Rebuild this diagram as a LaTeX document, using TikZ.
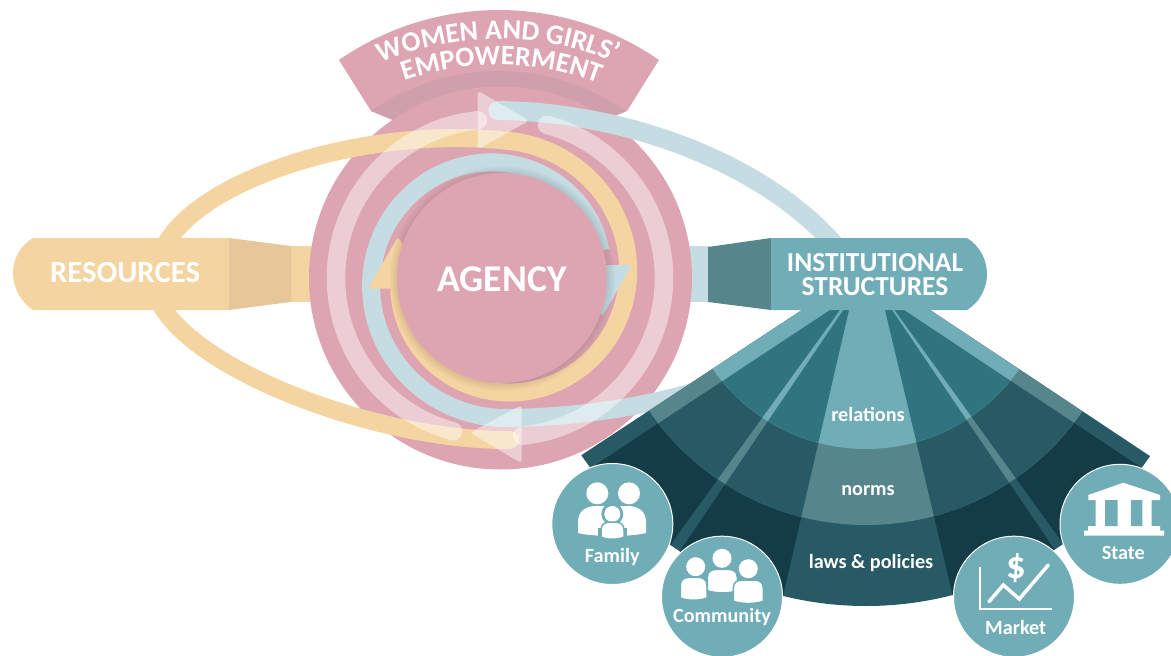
\documentclass[tikz,border=0pt]{standalone}
\usepackage{fontspec}
\setmainfont{Carlito}
\usetikzlibrary{decorations.text}

\definecolor{pinkdisk}{HTML}{DDA5B2}
\definecolor{pinkdark}{HTML}{CFA0AC}
\definecolor{sandband}{HTML}{F4D4A0}
\definecolor{sandneck}{HTML}{E6C79A}
\definecolor{tealpale}{HTML}{C5DDE2}
\definecolor{tealmid}{HTML}{71ADB6}
\definecolor{tealgrey}{HTML}{56858C}
\definecolor{tealdeep}{HTML}{307480}
\definecolor{tealdark}{HTML}{275A65}
\definecolor{tealnight}{HTML}{133C46}

\tikzset{
  wideband/.style={line width=.36cm, line join=round},
  slimband/.style={line width=.36cm, line cap=round, line join=round},
  glassband/.style={white, opacity=.45, line width=.37cm, line cap=round, line join=round},
  arrowhead/.style={rounded corners=2pt},
  headtext/.style={white, font=\fontsize{15.6}{13.6}\selectfont\bfseries, align=center},
  fantext/.style={white, font=\fontsize{11.5}{12}\selectfont\bfseries},
  badge/.style={fill=tealmid, draw=white, line width=.02cm},
  person/.style={fill=white, draw=tealmid, line width=.03cm}
}

% left, top, right, bottom of the body of one person
\newcommand{\personbody}[4]{
  \filldraw[person] ({#1},{#4-2}) -- ({#1},{#2+8})
    .. controls ({#1},{#2+2}) and ({#1+4},{#2}) .. ({#1+10},{#2})
    -- ({#3-10},{#2})
    .. controls ({#3-4},{#2}) and ({#3},{#2+2}) .. ({#3},{#2+8})
    -- ({#3},{#4-2})
    .. controls ({(#1+#3)/2+6},{#4+1}) and ({(#1+#3)/2-6},{#4+1}) .. ({#1},{#4-2}) -- cycle;
}

\begin{document}
\begin{tikzpicture}[x=.02cm, y=-.02cm]
  \useasboundingbox (0,0) rectangle (1171,656);

  % Banner
  \fill[pinkdisk] (339,60) arc[start angle=235.3, end angle=304.7, radius=281]
    -- (627,111) -- (605,120) -- (393,120) -- (371,111) -- cycle;
  \fill[pinkdark] (371,111) arc[start angle=235.1, end angle=304.9, radius=222.5]
    -- (605,120) -- (393,120) -- cycle;
  \path[decorate, decoration={text along path, text align=center,
    text={|\color{white}\fontsize{16}{18}\selectfont\bfseries|WOMEN AND GIRLS’}}]
    (498,345) ++(235:306) arc[start angle=235, end angle=305, radius=306];
  \path[decorate, decoration={text along path, text align=center,
    text={|\color{white}\fontsize{16}{18}\selectfont\bfseries|EMPOWERMENT}}]
    (498,345) ++(235.8:280) arc[start angle=235.8, end angle=305.8, radius=280];

  % Necks behind the disk
  \fill[sandband] (285,246) rectangle (330,302);
  \fill[tealpale] (670,246) rectangle (710,302);

  % Disk
  \fill[pinkdisk] (500.5,278) circle[radius=191.5];

  % Teal spiral
  \draw[tealpale, wideband] (720,383) .. controls (660,405) and (580,418) .. (499,418)
    -- plot[smooth, domain=90:345, samples=40]
    ({499+(140-(\x-90)*.137)*cos(\x)}, {278+(140-(\x-90)*.137)*sin(\x)});
  \draw[tealpale, line width=.38cm, line cap=round] (498,110.5) .. controls (630,112) and (765,165) .. (835,245);

  % Sand spiral
  \draw[sandband, wideband] (165,245) .. controls (205,175) and (370,127) .. (502,140.3)
    -- plot[smooth, domain=-90:178, samples=40]
    ({502+(126-\x*.13)*cos(\x)}, {278+(126-\x*.13)*sin(\x)});
  \draw[sandband, slimband] (160,303) .. controls (195,370) and (370,438) .. (502,440) -- (510,440);

  % Arrowheads of the spirals
  \fill[sandband, arrowhead] (368,288.5) -- (398,236.7) -- (428,288.5) -- cycle;
  \fill[tealpale, arrowhead] (632,265) -- (602,316.7) -- (572,265) -- cycle;

  % Inner circle with a soft shadow
  \foreach \rad in {106,107,...,113}{
    \fill[black, opacity=.012] (502.5,278.5) circle[radius=\rad];
  }
  \fill[pinkdisk] (502,278) circle[radius=105];
  \node (agency) [white, font=\fontsize{21.5}{22}\selectfont\bfseries] at (502,279) {AGENCY};

  % Glass ring
  \draw[glassband] plot[smooth, domain=-73:82, samples=40]
    ({500+(164-.0007*\x*\x)*cos(\x)}, {278+(164-.0007*\x*\x)*sin(\x)});
  \fill[white, opacity=.45, arrowhead] (521.7,405) -- (470,432.7) -- (521.7,463.3) -- cycle;
  \draw[glassband] plot[smooth, domain=-73:82, samples=40]
    ({500-(164-.0007*\x*\x)*cos(\x)}, {278-(164-.0007*\x*\x)*sin(\x)});
  \fill[white, opacity=.45, arrowhead] (477.7,90.7) -- (529.3,120.7) -- (477.7,149.3) -- cycle;

  % Fan, one ring at a time
  \foreach \rad/\lite/\deep in {344/tealdark/tealnight, 263/tealgrey/tealdark, 187/tealmid/tealdeep}{
    \begin{scope}
      \clip (802,310) -- (400,574.5) -- (400,800) -- (1330,800) -- (1330,575.6) -- (930,310) -- cycle;
      \clip (866,262) circle[radius=\rad];
      \fill[\lite] (400,250) rectangle (1330,800);
      \fill[\deep] (830,310) -- (500,528) -- (450,700) -- (558.3,700) -- (840,310) -- cycle;
      \fill[\deep] (843.3,310) -- (579,700) -- (759,700) -- (849,310) -- cycle;
      \fill[\deep] (885,310) -- (977.6,700) -- (1156.4,700) -- (892,310) -- cycle;
      \fill[\deep] (894.5,310) -- (1176,700) -- (1300,700) -- (1300,573) -- (904,310) -- cycle;
    \end{scope}
  }
  \node (relations) [fantext] at (868,414.5) {relations};
  \node (norms) [fantext] at (868,491) {norms};
  \node (laws) [fantext] at (871,563) {laws \& policies};

  % Resources box
  \fill[sandneck] (229,238) -- (291,246) -- (291,302) -- (229,310) -- cycle;
  \fill[sandband] (229,238) -- (33,238) .. controls (21,245) and (13,258) .. (13,273)
    .. controls (13,288) and (21,302) .. (33,310) -- (229,310) -- cycle;
  \node (resources) [headtext, font=\fontsize{17.5}{18}\selectfont\bfseries] at (125,272.5) {RESOURCES};

  % Institutional box
  \fill[tealgrey] (708,247) -- (771,238) -- (771,310) -- (708,302) -- cycle;
  \fill[tealmid] (771,238) -- (967,238) .. controls (980,246) and (987,260) .. (987,274)
    .. controls (987,288) and (980,302) .. (967,310) -- (771,310) -- cycle;
  \node (institutional) [headtext] at (875,275) {INSTITUTIONAL\\STRUCTURES};

  % Family
  \fill[badge] (612.3,524) circle[radius=60.5];
  \fill[white] (597.3,493.3) circle[radius=11] (629,493.3) circle[radius=11];
  \fill[white] (578,533) -- (578,522) .. controls (578,511) and (586,506) .. (596,506)
    -- (628,506) .. controls (638,506) and (646,511) .. (646,522) -- (646,533)
    .. controls (630,537) and (594,537) .. (578,533) -- cycle;
  \fill[tealmid] (612.3,514) circle[radius=11];
  \fill[tealmid] (598,541) rectangle (627,528);
  \fill[white] (612.3,514) circle[radius=8];
  \personbody{601}{522}{624}{539}
  \node (family) [fantext] at (612.3,556.5) {Family};

  % Community
  \fill[badge] (722,596.7) circle[radius=60.5];
  \fill[white] (695.7,566.7) circle[radius=9.5] (722,558.3) circle[radius=9.5] (748.3,568.7) circle[radius=9.5];
  \personbody{680.3}{577.3}{707}{600}
  \personbody{707.3}{569.3}{737.3}{592.7}
  \personbody{733.3}{580}{763.3}{603.3}
  \node (community) [fantext] at (722,617) {Community};

  % Market
  \fill[badge] (1014,596.7) circle[radius=60.5];
  \draw[white, line width=.028cm] (980,567.3) -- (980,609) -- (1051.7,609);
  \draw[white, line width=.07cm, line cap=round, line join=miter]
    (989,601.7) -- (1003.3,585) -- (1019.3,599) -- (1048.3,565);
  \node (dollar) [white, font=\fontsize{22}{24}\selectfont\bfseries] at (1016,568.3) {\$};
  \node (market) [fantext] at (1015.7,627) {Market};

  % State
  \fill[badge] (1120,524.3) circle[radius=60];
  \fill[white] (1123.3,482.7) -- (1160,495) -- (1160,500) -- (1151.7,500) -- (1151.7,526)
    -- (1160,526) -- (1160,530.7) -- (1164,530.7) -- (1164,535.7) -- (1084,535.7)
    -- (1084,530.7) -- (1088,530.7) -- (1088,526) -- (1095.7,526) -- (1095.7,500)
    -- (1088.3,500) -- (1088.3,495) -- cycle;
  \fill[tealmid] (1105,500) rectangle (1117.7,526) (1131,500) rectangle (1142.3,526);
  \node (state) [fantext] at (1123.3,553) {State};
\end{tikzpicture}
\end{document}
